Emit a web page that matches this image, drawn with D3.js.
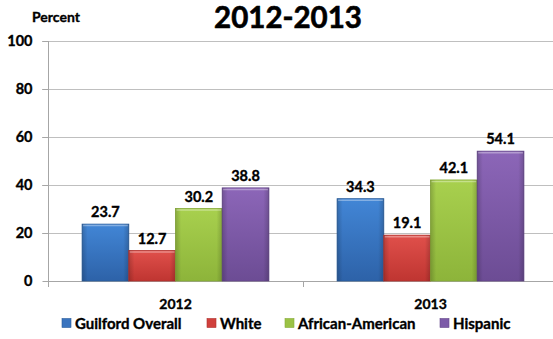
<!DOCTYPE html>
<html><head><meta charset="utf-8">
<script src="https://cdn.jsdelivr.net/npm/d3@7/dist/d3.min.js"></script>
<style>body{margin:0;background:#fff}svg{display:block}text{font-family:Lato,"Open Sans",sans-serif;font-weight:bold;fill:#000;stroke:#000;stroke-width:0.35px}</style>
</head><body>
<script>
const categories = ["2012", "2013"];
const seriesNames = ["Guilford Overall", "White", "African-American", "Hispanic"];
const guilford = [23.7, 34.3];
const white = [12.7, 19.1];
const africanAmerican = [30.2, 42.1];
const hispanic = [38.8, 54.1];
const yTicks = [0, 20, 40, 60, 80, 100];
const seriesValues = [guilford, white, africanAmerican, hispanic];
const colors = [
  {top:"#4286d6", bot:"#2d62a8", edge:"#2a5d9c", key:"#3a74bf"},
  {top:"#e0504b", bot:"#bf3531", edge:"#b0302c", key:"#d0403c"},
  {top:"#a8d04e", bot:"#8db43a", edge:"#86aa37", key:"#9bc245"},
  {top:"#8c66b8", bot:"#6c4c94", edge:"#64468a", key:"#7c5aa8"}
];

const W = 553, H = 339;
const svg = d3.select("body").append("svg").attr("width", W).attr("height", H);
const defs = svg.append("defs");
colors.forEach((c, i) => {
  const g = defs.append("linearGradient").attr("id", "g" + i).attr("x1", 0).attr("y1", 0).attr("x2", 0).attr("y2", 1);
  g.append("stop").attr("offset", "0%").attr("stop-color", c.top);
  g.append("stop").attr("offset", "100%").attr("stop-color", c.bot);
  const h = defs.append("linearGradient").attr("id", "h" + i).attr("x1", 0).attr("y1", 0).attr("x2", 1).attr("y2", 0);
  h.append("stop").attr("offset", "0%").attr("stop-color", "#000").attr("stop-opacity", 0.18);
  h.append("stop").attr("offset", "12%").attr("stop-color", "#000").attr("stop-opacity", 0);
  h.append("stop").attr("offset", "88%").attr("stop-color", "#000").attr("stop-opacity", 0);
  h.append("stop").attr("offset", "100%").attr("stop-color", "#000").attr("stop-opacity", 0.18);
});

const pLeft = 48, pRight = 558, pTop = 41, pBottom = 281;
const y = d3.scaleLinear().domain([0, 100]).range([pBottom, pTop]);
const x0 = d3.scaleBand().domain(categories).range([pLeft, pRight]).paddingInner(0).paddingOuter(0);
const x1 = d3.scaleBand().domain(seriesNames).range([0, x0.bandwidth()]).paddingOuter(0.73).paddingInner(0);

// gridlines
svg.append("g").selectAll("line").data(yTicks.filter(d => d > 0)).join("line")
  .attr("x1", pLeft - 6).attr("x2", W).attr("y1", d => y(d) + 0.5).attr("y2", d => y(d) + 0.5)
  .attr("stroke", "#bfbfbf").attr("stroke-width", 1);

// y axis
const yAxis = d3.axisLeft(y).tickValues(yTicks).tickSize(6).tickPadding(10);
const ya = svg.append("g").attr("transform", `translate(${pLeft + 0.5},0)`).call(yAxis);
ya.select(".domain").attr("stroke", "#a6a6a6").attr("d", `M0,${pTop}V${pBottom + 6}`);
ya.selectAll(".tick line").attr("stroke", "#a6a6a6");
ya.selectAll(".tick").attr("transform", d => `translate(0,${y(d) + 0.5})`);
ya.selectAll("text").style("font-size", "14.5px").style("font-family", "Lato,sans-serif").style("font-weight", "bold").attr("fill", "#000").attr("x", -16);

// x axis
const xa = svg.append("g").attr("transform", `translate(0,${pBottom + 0.5})`)
  .call(d3.axisBottom(x0).tickSize(0).tickPadding(18));
xa.select(".domain").attr("stroke", "#a6a6a6").attr("d", `M${pLeft},0H${W}`);
xa.selectAll("text").style("font-size", "14px").style("font-family", "Lato,sans-serif").style("font-weight", "bold").attr("fill", "#000").attr("y", 27).attr("dy", "0");
svg.append("g").selectAll("line").data([pLeft, x0("2013")]).join("line")
  .attr("x1", d => Math.round(d) + 0.5).attr("x2", d => Math.round(d) + 0.5)
  .attr("y1", pBottom).attr("y2", pBottom + 6).attr("stroke", "#a6a6a6");

// bars
const groups = svg.append("g").selectAll("g").data(categories).join("g")
  .attr("transform", c => `translate(${x0(c)},0)`);
seriesNames.forEach((s, si) => {
  const vals = seriesValues[si];
  groups.append("rect")
    .attr("x", (c, ci) => x1(s)).attr("width", x1.bandwidth())
    .attr("y", (c, ci) => y(vals[ci])).attr("height", (c, ci) => y(0) - y(vals[ci]))
    .attr("fill", `url(#g${si})`).attr("stroke", colors[si].edge).attr("stroke-width", 0.8);
  groups.append("rect")
    .attr("x", (c, ci) => x1(s)).attr("width", x1.bandwidth())
    .attr("y", (c, ci) => y(vals[ci])).attr("height", (c, ci) => y(0) - y(vals[ci]))
    .attr("fill", `url(#h${si})`);
  groups.append("line")
    .attr("x1", (c, ci) => x1(s) + 1).attr("x2", (c, ci) => x1(s) + x1.bandwidth() - 1)
    .attr("y1", (c, ci) => y(vals[ci]) + 1.5).attr("y2", (c, ci) => y(vals[ci]) + 1.5)
    .attr("stroke", "#fff").attr("stroke-opacity", 0.35).attr("stroke-width", 1.5);
  groups.append("text")
    .attr("x", (c, ci) => x1(s) + x1.bandwidth() / 2)
    .attr("y", (c, ci) => y(vals[ci]) - 7)
    .attr("text-anchor", "middle").style("font-size", "14.5px")
    .text((c, ci) => vals[ci].toFixed(1));
});

// title
svg.append("text").attr("x", 288).attr("y", 28).attr("text-anchor", "middle")
  .style("font-size", "29.5px").style("stroke-width", "0.6px").text("2012-2013");
svg.append("text").attr("x", 32).attr("y", 22).style("font-size", "14px").text("Percent");

// legend
const legX = [62, 207, 285, 440];
const leg = svg.append("g").selectAll("g").data(seriesNames).join("g")
  .attr("transform", (d, i) => `translate(${legX[i]},323)`);
leg.append("rect").attr("x", 0).attr("y", -4.5).attr("width", 9).attr("height", 9)
  .attr("fill", (d, i) => colors[i].key).attr("stroke", (d, i) => colors[i].edge).attr("stroke-width", 0.6);
leg.append("text").attr("x", 13).attr("y", 5.5).style("font-size", "15px").text(d => d);
</script>
</body></html>
